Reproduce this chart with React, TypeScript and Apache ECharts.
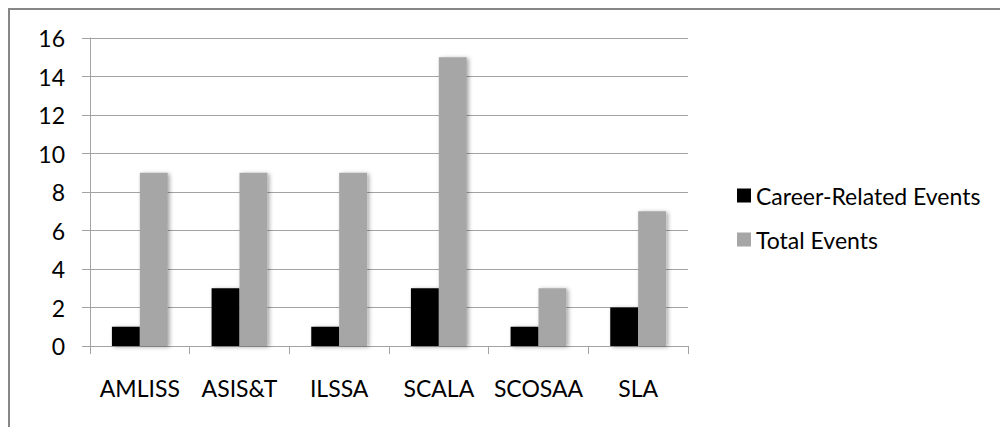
import React, { useEffect, useRef } from "react";
import * as echarts from "echarts";

const categories = ["AMLISS", "ASIS&T", "ILSSA", "SCALA", "SCOSAA", "SLA"];
const careerEvents = [1, 3, 1, 3, 1, 2];
const totalEvents = [9, 9, 9, 15, 3, 7];
const seriesNames = ["Career-Related Events", "Total Events"];

const FONT = "Lato, 'Noto Sans', sans-serif";
const GRID = "#a3a3a3";

export default function App() {
  const ref = useRef<HTMLDivElement>(null);
  useEffect(() => {
    if (!ref.current) return;
    const chart = echarts.init(ref.current, undefined, { renderer: "svg" });
    const shadow = {
      shadowBlur: 4,
      shadowOffsetX: 2,
      shadowOffsetY: 1,
      shadowColor: "rgba(0,0,0,0.35)",
    };
    chart.setOption({
      animation: false,
      textStyle: { fontFamily: FONT },
      graphic: [
        {
          type: "rect",
          shape: { x: 1, y: 1, width: 1200, height: 600 },
          style: { fill: "none", stroke: "#878787", lineWidth: 2 },
          silent: true,
        },
      ],
      grid: { left: 82, right: 320, top: 30, bottom: 81 },
      legend: {
        orient: "vertical",
        left: 724,
        top: 170,
        itemWidth: 14,
        itemHeight: 14,
        itemGap: 19,
        icon: "rect",
        textStyle: { fontFamily: FONT, fontSize: 23, color: "#000", lineHeight: 25 },
        data: seriesNames,
      },
      xAxis: {
        type: "category",
        data: categories,
        axisLine: { lineStyle: { color: GRID, width: 1 } },
        axisTick: { show: true, length: 8, lineStyle: { color: GRID } },
        axisLabel: { fontFamily: FONT, fontSize: 23, color: "#000", margin: 30, interval: 0 },
      },
      yAxis: {
        type: "value",
        min: 0,
        max: 16,
        interval: 2,
        axisLine: { show: true, lineStyle: { color: GRID, width: 1 } },
        axisTick: { show: true, length: 8, lineStyle: { color: GRID } },
        splitLine: { lineStyle: { color: GRID, width: 1 } },
        axisLabel: { fontFamily: FONT, fontSize: 23, color: "#000", margin: 25 },
      },
      series: [
        {
          name: seriesNames[0],
          type: "bar",
          data: careerEvents,
          barGap: "0%",
          barCategoryGap: "44%",
          itemStyle: { color: "#000000", ...shadow },
        },
        {
          name: seriesNames[1],
          type: "bar",
          data: totalEvents,
          barGap: "0%",
          barCategoryGap: "44%",
          itemStyle: { color: "#a6a6a6", ...shadow },
        },
      ],
    });
    return () => chart.dispose();
  }, []);
  return <div ref={ref} style={{ width: 1000, height: 419 }} />;
}
